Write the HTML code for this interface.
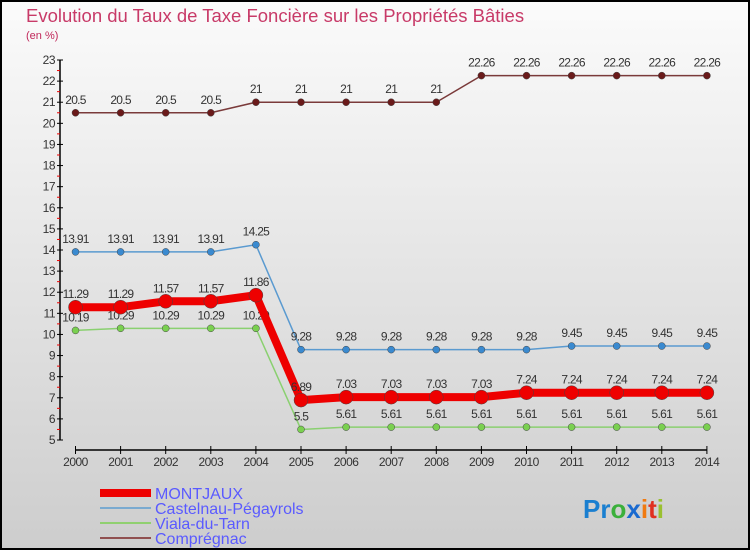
<!DOCTYPE html>
<html><head><meta charset="utf-8"><style>
body{margin:0;width:750px;height:550px;overflow:hidden;font-family:"Liberation Sans",sans-serif}
</style></head><body>
<svg id="chart" width="750" height="550" xmlns="http://www.w3.org/2000/svg" font-family="Liberation Sans, sans-serif">
<defs><linearGradient id="bg" x1="0" y1="0" x2="0" y2="1"><stop offset="0" stop-color="#fbfbfb"/><stop offset="1" stop-color="#cdcdcd"/></linearGradient></defs>
<rect x="1" y="1" width="748" height="548" fill="url(#bg)" stroke="#000" stroke-width="2"/>
<text x="26" y="22" font-size="18.5" fill="#c83a68">Evolution du Taux de Taxe Foncière sur les Propriétés Bâties</text>
<text x="26" y="39" font-size="11" fill="#c0285a">(en %)</text>
<g id="axes"></g>
<g id="series"></g>
<g>
<line x1="100" y1="493" x2="151" y2="493" stroke="#e00" stroke-width="8"/>
<text x="155" y="499" font-size="16" fill="#5a5aff">MONTJAUX</text>
<line x1="100" y1="508" x2="151" y2="508" stroke="#7aaad0" stroke-width="2"/>
<text x="155" y="514" font-size="16" fill="#5a5aff">Castelnau-Pégayrols</text>
<line x1="100" y1="523" x2="151" y2="523" stroke="#90d070" stroke-width="2"/>
<text x="155" y="529" font-size="16" fill="#5a5aff">Viala-du-Tarn</text>
<line x1="100" y1="538" x2="151" y2="538" stroke="#905050" stroke-width="2"/>
<text x="155" y="544" font-size="16" fill="#5a5aff">Comprégnac</text>
</g>
<text x="583" y="518" font-size="26" font-weight="bold"><tspan fill="#1a7fd0">Pr</tspan><tspan fill="#3bb03b">o</tspan><tspan fill="#1a6ad0">x</tspan><tspan fill="#f07a10">i</tspan><tspan fill="#e03020">t</tspan><tspan fill="#9ac030">i</tspan></text>
</svg>
<script>
const years=[2000,2001,2002,2003,2004,2005,2006,2007,2008,2009,2010,2011,2012,2013,2014];
const montjaux=[11.29,11.29,11.57,11.57,11.86,6.89,7.03,7.03,7.03,7.03,7.24,7.24,7.24,7.24,7.24];
const castelnau=[13.91,13.91,13.91,13.91,14.25,9.28,9.28,9.28,9.28,9.28,9.28,9.45,9.45,9.45,9.45];
const viala=[10.19,10.29,10.29,10.29,10.29,5.5,5.61,5.61,5.61,5.61,5.61,5.61,5.61,5.61,5.61];
const compregnac=[20.5,20.5,20.5,20.5,21,21,21,21,21,22.26,22.26,22.26,22.26,22.26,22.26];
const yTicks=[5,6,7,8,9,10,11,12,13,14,15,16,17,18,19,20,21,22,23];
const NS="http://www.w3.org/2000/svg";
const x=i=>75.5+i*45.1;
const y=v=>440-(v-5)*(380/18);
function mk(tag,attrs,parent){const e=document.createElementNS(NS,tag);for(const k in attrs)e.setAttribute(k,attrs[k]);parent.appendChild(e);return e;}
const axes=document.getElementById('axes');
let a=mk('line',{x1:60,y1:y(23),x2:60,y2:440,stroke:'#000','stroke-width':1.5},axes);


yTicks.forEach(t=>{
  mk('line',{x1:57,y1:y(t),x2:63,y2:y(t),stroke:'#000'},axes);
  if(t<23)mk('line',{x1:57,y1:y(t+0.5),x2:60,y2:y(t+0.5),stroke:'#e00'},axes);
  const tx=mk('text',{x:55,y:y(t)+4,'font-size':12,'text-anchor':'end',fill:'#333','letter-spacing':'-0.5'},axes);
  tx.textContent=t;
  
  
});
let xa=mk('line',{x1:x(0),y1:450,x2:x(14),y2:450,stroke:'#000','stroke-width':1.5},axes);


years.forEach((yr,i)=>{
  mk('line',{x1:x(i),y1:446,x2:x(i),y2:454,stroke:'#000'},axes);
  const tx=mk('text',{x:x(i),y:466,'font-size':12,'text-anchor':'middle',fill:'#333','letter-spacing':'-0.5'},axes);
  tx.textContent=yr;
  
  
});
const g=document.getElementById('series');
function series(name,vals,color,dot,w,r){
  const grp=mk('g',{},g);
  
  
  const pl=mk('polyline',{points:vals.map((v,i)=>x(i)+','+y(v)).join(' '),fill:'none',stroke:color,'stroke-width':w,'stroke-linejoin':'round'},grp);
  
  
  vals.forEach((v,i)=>{
    const c=mk('circle',{cx:x(i),cy:y(v),r:r,fill:dot,stroke:'#444','stroke-width':0.5},grp);
    
    
    const t=mk('text',{x:x(i),y:y(v)-9,'font-size':12,'text-anchor':'middle',fill:'#333','letter-spacing':'-0.7'},grp);
    t.textContent=v;
    
    
  });
}
series('compregnac',compregnac,'#7a3a3a','#6a1a1a',1.5,3.5);
series('castelnau',castelnau,'#5a9ad0','#3a8ad0',1.5,3.5);
series('viala',viala,'#8ad070','#7ad050',1.5,3.5);
series('montjaux',montjaux,'#e00','#e00',8,7);
</script>
</body></html>
